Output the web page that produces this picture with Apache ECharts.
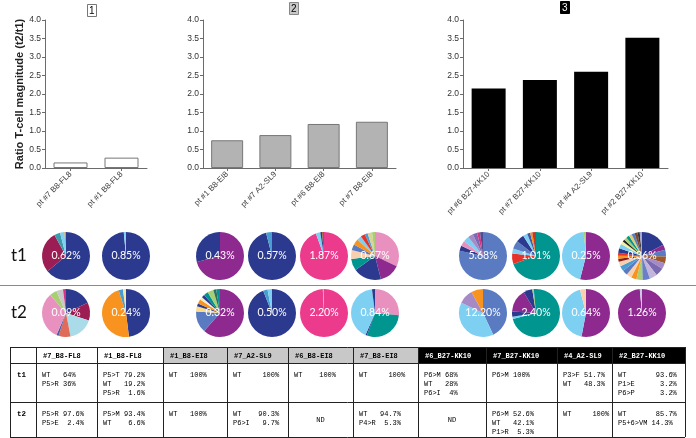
<!DOCTYPE html>
<html><head><meta charset="utf-8">
<script src="https://cdn.jsdelivr.net/npm/echarts@6/dist/echarts.min.js"></script>
<style>html,body{margin:0;padding:0;background:#fff}#c{width:696px;height:438px}</style>
</head><body><div id="c"></div>
<script>
// ---------- DATA ----------
const panelTitles = ['1', '2', '3'];
const panel1Cats = ['pt #7 B8-FL8', 'pt #1 B8-FL8'];
const panel1Vals = [0.15, 0.28];
const panel2Cats = ['pt #1 B8-EI8', 'pt #7 A2-SL9', 'pt #6 B8-EI8', 'pt #7 B8-EI8'];
const panel2Vals = [0.75, 0.89, 1.19, 1.25];
const panel3Cats = ['pt #6 B27-KK10', 'pt #7 B27-KK10', 'pt #4 A2-SL9', 'pt #2 B27-KK10'];
const panel3Vals = [2.15, 2.38, 2.60, 3.52];
const yTicks = [0, 0.5, 1.0, 1.5, 2.0, 2.5, 3.0, 3.5, 4.0];
const yName = 'Ratio T-cell magnitude (t2/t1)';

const rowLabels = ['t1', 't2'];
const t1Pct = ['0.62%', '0.85%', '0.43%', '0.57%', '1.87%', '0.67%', '5.68%', '1.01%', '0.25%', '0.36%'];
const t2Pct = ['0.09%', '0.24%', '0.32%', '0.50%', '2.20%', '0.84%', '12.20%', '2.40%', '0.64%', '1.26%'];
const t1Slices = [
  [64, 28, 4, 3, 1],
  [98.5, 1.5],
  [71, 29],
  [96, 4],
  [94.5, 3, 1.2, 1.3],
  [32, 14, 19, 8, 6, 4, 4, 3, 3, 2, 3, 2],
  [78.5, 3.5, 3.5, 4, 3.5, 3, 2, 2],
  [70, 7, 3.5, 5.5, 5.5, 3, 2, 1.5, 2.5],
  [54, 44.5, 1.5],
  [17, 3.5, 4.5, 4.5, 4, 5.5, 5, 5, 4, 3.5, 3.5, 3.5, 3.5, 3, 2, 2, 2, 3, 3, 2, 1.5, 2, 2, 2, 2, 2, 1.5, 1.5]
];
const t2Slices = [
  [18, 12, 17, 8, 1.5, 32, 5, 4.5, 2],
  [48, 47, 3, 2],
  [61.5, 14.5, 3.5, 2, 3, 2, 2, 3, 4, 2, 2.5],
  [94, 3, 3],
  [99.2, 0.8],
  [26.5, 29, 1, 41.5, 2],
  [43, 39, 10, 8],
  [71, 1.5, 3.5, 15.5, 6, 1, 1.5],
  [53, 43, 4],
  [98.5, 1.5]
];

const tableHeaders = ['#7_B8-FL8', '#1_B8-FL8', '#1_B8-EI8', '#7_A2-SL9', '#6_B8-EI8', '#7_B8-EI8', '#6_B27-KK10', '#7_B27-KK10', '#4_A2-SL9', '#2_B27-KK10'];
const tableT1 = [
  ['WT   64%', 'P5>R 36%'],
  ['P5>T 79.2%', 'WT   19.2%', 'P5>R  1.6%'],
  ['WT   100%'],
  ['WT     100%'],
  ['WT    100%'],
  ['WT     100%'],
  ['P6>M 68%', 'WT   28%', 'P6>I  4%'],
  ['P6>M 100%'],
  ['P3>F 51.7%', 'WT   48.3%'],
  ['WT       93.6%', 'P1>E      3.2%', 'P6>P      3.2%']
];
const tableT2 = [
  ['P5>R 97.6%', 'P5>E  2.4%'],
  ['P5>M 93.4%', 'WT    6.6%'],
  ['WT   100%'],
  ['WT    90.3%', 'P6>I   9.7%'],
  ['ND'],
  ['WT   94.7%', 'P4>R  5.3%'],
  ['ND'],
  ['P6>M 52.6%', 'WT   42.1%', 'P1>R  5.3%'],
  ['WT     100%'],
  ['WT       85.7%', 'P5+6>VM 14.3%']
];

// ---------- STYLES / LAYOUT ----------
const P = {NV:'#2b3a8f', MR:'#9b1d53', TB:'#3e9bae', LB:'#7ed0f2', OR:'#f7931e', PK:'#ec3a8d', PU:'#8e2a8f', TG:'#00958f',
  MB:'#5a7bc2', LP:'#e891bf', RD:'#e53329', PE:'#f9cfb0', LG:'#a9cf74', GY:'#c9c9c9', LV:'#a58ac6', SA:'#df6b58',
  YL:'#fbdc8c', BR:'#9c5a2c', CR:'#f2ecd2', DK:'#222222', DR:'#8b1c1c', VI:'#7b6ab2', PV:'#c2b4da', BL:'#4a9dd1', DT:'#2d6e60', MG:'#d63384'};
const t1Colors = [
  [P.NV, P.MR, P.TB, P.LB, P.OR],
  [P.NV, P.LB],
  [P.PU, P.NV],
  [P.NV, P.BL],
  [P.PK, P.LB, P.NV, P.BR],
  [P.LP, P.PU, P.NV, P.TG, P.PE, P.MB, P.OR, P.LB, P.RD, P.BL, '#d9d39a', P.LG],
  [P.MB, P.NV, P.LP, P.LB, P.LV, P.VI, P.MG, '#4b4e8f'],
  [P.TG, P.RD, P.LB, P.MB, P.NV, P.LB, '#3f5aa8', P.OR, '#c0392b'],
  [P.PU, P.LB, P.LG],
  [P.NV, P.PU, P.MB, P.BR, P.LV, P.VI, P.PV, '#6a7fc8', P.LG, P.OR, P.PE, P.MB, P.BL, P.PE, P.DR, P.OR, P.RD, P.NV, P.LB, '#f4f0a0', P.DK, P.LG, P.TG, '#e0d070', P.MB, '#7c4a2a', '#333333', '#a6a6d0']
];
const t2Colors = [
  [P.NV, P.MR, '#a9dbe8', P.SA, '#4a5ea8', P.LP, P.LG, P.GY, P.MG],
  [P.NV, P.OR, P.BL, '#f5e6a0'],
  [P.PU, P.MB, P.YL, P.NV, P.OR, P.CR, P.NV, P.TG, P.LG, P.DT, P.TG],
  [P.NV, P.BL, P.LB],
  [P.PK, '#f4a07a'],
  [P.LP, P.TG, P.NV, P.LB, P.NV],
  [P.MB, P.LB, P.LV, P.OR],
  [P.TG, P.LB, P.NV, P.PU, P.NV, P.LG, P.TG],
  [P.PU, P.LB, P.PE],
  [P.PU, '#c8c8e8']
];
const pieX = [66, 126, 220, 272, 324, 375, 483, 536, 586, 642];
const pieY = [256, 313];
const pieR = 24;

const grids = [
  {left: 45, top: 20, width: 102, height: 148},
  {left: 203, top: 20, width: 193, height: 148},
  {left: 463, top: 20, width: 205, height: 148}
];
const barStyles = [
  {color: '#ffffff', borderColor: '#777777', borderWidth: 1},
  {color: '#b3b3b3', borderColor: '#777777', borderWidth: 1},
  {color: '#000000', borderColor: '#000000', borderWidth: 0}
];
const barWidths = [34, 32, 34];
const titleStyles = [
  {left: 87, top: 4, bg: '#ffffff', fg: '#000', border: '#777'},
  {left: 289, top: 2, bg: '#c8c8c8', fg: '#000', border: '#888'},
  {left: 560, top: 1, bg: '#000000', fg: '#fff', border: '#000'}
];
const colEdges = [10, 36, 97, 163, 227, 288, 353, 418, 486, 557, 612, 685];
const rowEdges = [347, 363, 402, 437];
const cellPad = 6;
const headerBg = ['#ffffff', '#ffffff', '#c8c8c8', '#c8c8c8', '#c8c8c8', '#c8c8c8', '#000000', '#000000', '#000000', '#000000'];
const headerFg = ['#000', '#000', '#000', '#000', '#000', '#000', '#fff', '#fff', '#fff', '#fff'];

// ---------- BUILD ----------
const cats = [panel1Cats, panel2Cats, panel3Cats];
const vals = [panel1Vals, panel2Vals, panel3Vals];
const axisColor = '#6b6b6b';
const xAxes = [], yAxes = [], series = [], titles = [];
for (let i = 0; i < 3; i++) {
  xAxes.push({
    type: 'category', gridIndex: i, data: cats[i],
    axisLine: {lineStyle: {color: axisColor, width: 1}},
    axisTick: {show: true, alignWithLabel: true, length: 3, lineStyle: {color: axisColor}},
    axisLabel: {rotate: 45, fontSize: 8, color: '#444', margin: 5, fontFamily: 'Liberation Sans', interval: 0}
  });
  yAxes.push({
    type: 'value', gridIndex: i, min: yTicks[0], max: yTicks[yTicks.length - 1], interval: yTicks[1] - yTicks[0],
    axisLine: {show: true, lineStyle: {color: axisColor, width: 1}},
    axisTick: {show: true, length: 3, lineStyle: {color: axisColor}},
    splitLine: {show: false},
    axisLabel: {fontSize: 8.5, color: '#333', margin: 4, fontFamily: 'Liberation Sans', formatter: v => v.toFixed(1)},
    name: i === 0 ? yName : '', nameLocation: 'middle', nameRotate: 90, nameGap: 19,
    nameTextStyle: {fontSize: 11, fontWeight: 'bold', color: '#222', fontFamily: 'Liberation Sans'}
  });
  series.push({
    type: 'bar', xAxisIndex: i, yAxisIndex: i, data: vals[i], barWidth: barWidths[i],
    itemStyle: barStyles[i], silent: true
  });
  const ts = titleStyles[i];
  titles.push({
    text: panelTitles[i], left: ts.left, top: ts.top, padding: [1, 2, 0, 2],
    backgroundColor: ts.bg, borderColor: ts.border, borderWidth: 1,
    textStyle: {fontSize: 10, fontWeight: 'normal', color: ts.fg, fontFamily: 'Liberation Sans', lineHeight: 12}
  });
}

function pieSeries(slices, colors, pct, cx, cy) {
  return {
    type: 'pie', center: [cx, cy], radius: pieR, startAngle: 90, clockwise: true,
    silent: true, avoidLabelOverlap: false, labelLine: {show: false},
    label: {show: false},
    itemStyle: {borderWidth: 0},
    emphasis: {disabled: true},
    data: slices.map((v, k) => ({
      value: v,
      itemStyle: {color: colors[k]},
      label: k === 0 ? {show: true, position: 'center', formatter: pct, color: '#ffffff', fontSize: 10.5, fontFamily: 'Lato'} : {show: false}
    }))
  };
}
for (let i = 0; i < pieX.length; i++) {
  series.push(pieSeries(t1Slices[i], t1Colors[i], t1Pct[i], pieX[i], pieY[0]));
  series.push(pieSeries(t2Slices[i], t2Colors[i], t2Pct[i], pieX[i], pieY[1]));
}

const graphic = [];
graphic.push({type: 'line', shape: {x1: 0, y1: 285.5, x2: 696, y2: 285.5}, style: {stroke: '#8a8a8a', lineWidth: 1}, silent: true});
rowLabels.forEach((t, r) => {
  graphic.push({type: 'text', x: 11, y: pieY[r], style: {text: t, fontSize: 17, fontFamily: 'Lato', fill: '#111', verticalAlign: 'middle', align: 'left'}, silent: true});
});
for (let c = 0; c < tableHeaders.length; c++) {
  graphic.push({type: 'rect', shape: {x: colEdges[c + 1], y: rowEdges[0], width: colEdges[c + 2] - colEdges[c + 1], height: rowEdges[1] - rowEdges[0]},
    style: {fill: headerBg[c]}, silent: true});
}
rowEdges.forEach(y => graphic.push({type: 'line', shape: {x1: colEdges[0], y1: y + 0.5, x2: colEdges[colEdges.length - 1], y2: y + 0.5}, style: {stroke: '#222', lineWidth: 1}, silent: true}));
colEdges.forEach(x => graphic.push({type: 'line', shape: {x1: x + 0.5, y1: rowEdges[0], x2: x + 0.5, y2: rowEdges[rowEdges.length - 1]}, style: {stroke: '#222', lineWidth: 1}, silent: true}));
tableHeaders.forEach((h, c) => {
  graphic.push({type: 'text', x: colEdges[c + 1] + cellPad + 1, y: (rowEdges[0] + rowEdges[1]) / 2 + 1,
    style: {text: h, font: 'bold 7px "Liberation Mono"', fill: headerFg[c], verticalAlign: 'middle'}, silent: true});
});
[tableT1, tableT2].forEach((rowData, r) => {
  const top = rowEdges[r + 1], bot = rowEdges[r + 2];
  graphic.push({type: 'text', x: colEdges[0] + 7, y: top + 12,
    style: {text: rowLabels[r], font: 'bold 7.5px "Liberation Mono"', fill: '#000', verticalAlign: 'middle'}, silent: true});
  rowData.forEach((lines, c) => {
    const x0 = colEdges[c + 1], x1 = colEdges[c + 2];
    if (lines.length === 1 && lines[0] === 'ND') {
      graphic.push({type: 'text', x: (x0 + x1) / 2, y: (top + bot) / 2 + 1,
        style: {text: lines[0], font: '7px "Liberation Mono"', fill: '#000', align: 'center', verticalAlign: 'middle'}, silent: true});
    } else {
      lines.forEach((ln, k) => {
        graphic.push({type: 'text', x: x0 + cellPad, y: top + 12 + k * 9,
          style: {text: ln, font: '7px "Liberation Mono"', fill: '#000', verticalAlign: 'middle'}, silent: true});
      });
    }
  });
});

const chart = echarts.init(document.getElementById('c'), null, {renderer: 'canvas'});
chart.setOption({
  animation: false,
  backgroundColor: '#ffffff',
  title: titles,
  grid: grids,
  xAxis: xAxes,
  yAxis: yAxes,
  series: series,
  graphic: graphic
});
</script>
</body></html>
